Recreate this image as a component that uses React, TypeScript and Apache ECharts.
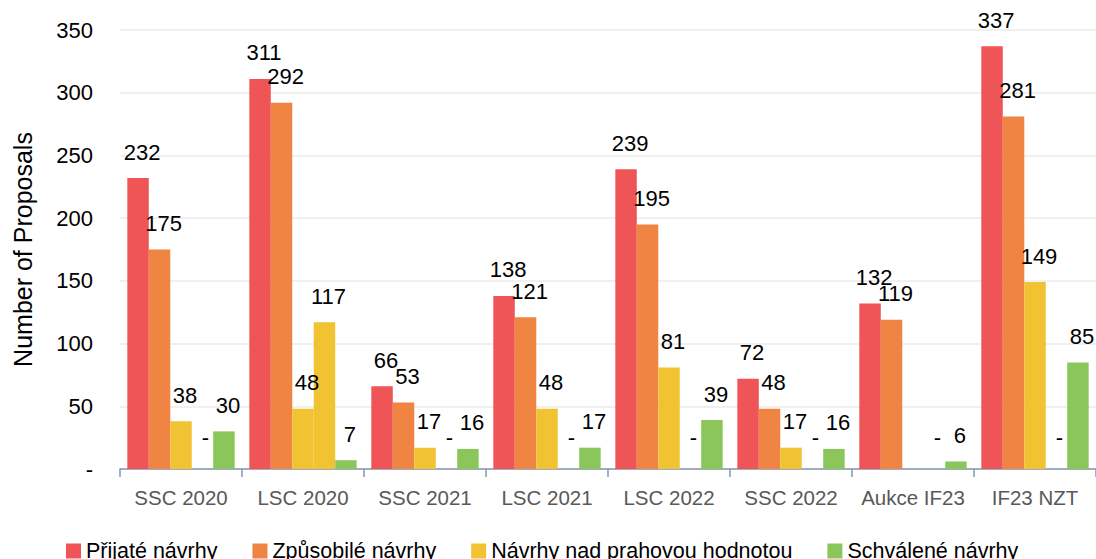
import React, { useEffect, useRef } from "react";
import * as echarts from "echarts";

const categories = ["SSC 2020", "LSC 2020", "SSC 2021", "LSC 2021", "LSC 2022", "SSC 2022", "Aukce IF23", "IF23 NZT"];
const prijate = [232, 311, 66, 138, 239, 72, 132, 337];
const zpusobile = [175, 292, 53, 121, 195, 48, 119, 281];
const nadPrahem = [38, 48, 17, 48, 81, 17, null, 149];
const nadPrahem2 = [0, 117, 0, 0, 0, 0, 0, 0];
const schvalene = [30, 7, 16, 17, 39, 16, 6, 85];
const yTicks = [0, 50, 100, 150, 200, 250, 300, 350];

const RED = "#ef5456";
const ORANGE = "#ef8443";
const YELLOW = "#f1c232";
const GREEN = "#8bc65a";
const FONT = "Liberation Sans, Arial, sans-serif";

const fmt = (v: number | null) => (v === null || v === undefined ? "" : v === 0 ? "-" : String(v));

function toData(arr: (number | null)[]) {
  return arr.map((v) =>
    v === 0
      ? { value: v, label: { offset: [3, -6] } }
      : { value: v }
  );
}

function makeSeries(name: string, arr: (number | null)[], color: string) {
  return {
    name,
    type: "bar",
    data: toData(arr),
    itemStyle: { color },
    barGap: "0%",
    barCategoryGap: "12%",
    label: {
      show: true,
      position: "top",
      distance: 15,
      offset: [4, 0],
      color: "#000",
      fontSize: 22,
      fontFamily: FONT,
      formatter: (p: any) => fmt(p.value),
    },
  };
}

export default function App() {
  const ref = useRef<HTMLDivElement>(null);
  useEffect(() => {
    document.body.style.margin = "0";
    const chart = echarts.init(ref.current!, null, { renderer: "svg" });
    chart.setOption({
      animation: false,
      textStyle: { fontFamily: FONT },
      grid: { left: 120, right: 0, top: 30, bottom: 90, containLabel: false },
      legend: {
        data: ["Přijaté návrhy", "Způsobilé návrhy", "Návrhy nad prahovou hodnotou", "Schválené návrhy"],
        top: 540,
        left: 66,
        padding: 0,
        icon: "rect",
        itemWidth: 15,
        itemHeight: 15,
        itemGap: 35,
        textStyle: { fontSize: 21.5, color: "#000", fontFamily: FONT },
      },
      xAxis: {
        type: "category",
        data: categories,
        axisLine: { lineStyle: { color: "#8497b0", width: 1.5 } },
        axisTick: { show: true, length: 8, lineStyle: { color: "#8497b0", width: 1.5 } },
        axisLabel: { color: "#595959", fontSize: 20.5, margin: 18, interval: 0, fontFamily: FONT },
      },
      yAxis: {
        type: "value",
        min: 0,
        max: 350,
        interval: 50,
        name: "Number of Proposals",
        nameLocation: "middle",
        nameGap: 85,
        nameTextStyle: { fontSize: 25, color: "#000", fontFamily: FONT },
        axisLine: { show: false },
        axisTick: { show: false },
        axisLabel: {
          color: "#000",
          fontSize: 22,
          margin: 27,
          fontFamily: FONT,
          formatter: (v: number) => (yTicks.includes(v) ? fmt(v) : ""),
        },
        splitLine: { lineStyle: { color: "#f0f0f0", width: 2 } },
      },
      series: [
        makeSeries("Přijaté návrhy", prijate, RED),
        makeSeries("Způsobilé návrhy", zpusobile, ORANGE),
        makeSeries("Návrhy nad prahovou hodnotou", nadPrahem, YELLOW),
        makeSeries("Návrhy nad prahovou hodnotou (2)", nadPrahem2, YELLOW),
        makeSeries("Schválené návrhy", schvalene, GREEN),
      ],
    });
    return () => chart.dispose();
  }, []);
  return <div ref={ref} style={{ width: 1096, height: 559 }} />;
}
